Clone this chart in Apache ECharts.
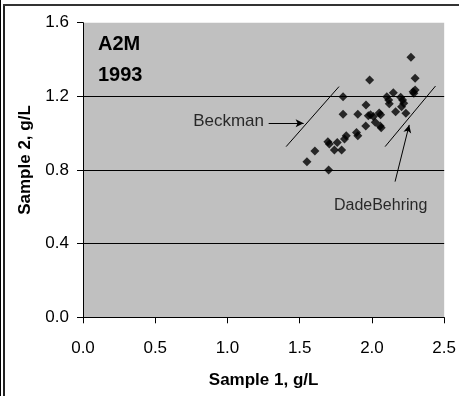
<!DOCTYPE html>
<html>
<head>
<meta charset="utf-8">
<script src="https://cdn.jsdelivr.net/npm/echarts@6/dist/echarts.min.js"></script>
<style>
html,body{margin:0;padding:0;background:#fff;}
#c{width:459px;height:396px;}
</style>
</head>
<body>
<div id="c"></div>
<script>
// ---- data ----
const sample1 = [1.55,1.605,1.70,1.695,1.705,1.74,1.76,1.79,1.80,1.80,1.81,1.822,1.893,1.902,1.902,1.957,1.959,1.984,1.975,1.99,2.01,2.023,2.05,2.06,2.057,2.064,2.103,2.116,2.12,2.148,2.164,2.199,2.212,2.22,2.205,2.235,2.27,2.299,2.29,2.299,2.285];
const sample2 = [0.845,0.903,0.80,0.954,0.941,0.909,0.950,0.909,1.198,1.103,0.968,0.986,1.003,0.986,1.103,1.039,1.153,1.289,1.095,1.10,1.09,1.059,1.11,1.10,1.039,1.03,1.198,1.18,1.16,1.22,1.117,1.195,1.18,1.162,1.144,1.108,1.412,1.298,1.217,1.235,1.225];
const xTickLabels = ['0.0','0.5','1.0','1.5','2.0','2.5'];
const yTickLabels = ['0.0','0.4','0.8','1.2','1.6'];
const gridLineValues = [0.4,0.8,1.2];
const beckmanLine = [[1.406,0.927],[1.772,1.253]];
const dadeLine = [[2.091,0.927],[2.44,1.256]];
const beckmanArrow = [[1.285,1.054],[1.527,1.054]];
const dadeArrow = [[2.16,0.737],[2.258,1.045]];
const beckmanLabel = [1.253,1.067];
const dadeLabel = [1.737,0.605];
const titleLines = ['A2M','1993'];
const xName = 'Sample 1, g/L';
const yName = 'Sample 2, g/L';

const points = sample1.map((x,i)=>[x,sample2[i]]);
const FONT = 'Liberation Sans, Arial, sans-serif';

const chart = echarts.init(document.getElementById('c'), null, {renderer:'canvas'});
chart.setOption({
  animation:false,
  backgroundColor:'#ffffff',
  title:{
    text:titleLines.join('\n'),
    left:98, top:29, padding:0,
    textStyle:{fontFamily:FONT,fontSize:20,fontWeight:'bold',color:'#000',lineHeight:31}
  },
  grid:{left:83,right:10.7,top:22.7,bottom:78.7,show:true,backgroundColor:'#C0C0C0',borderWidth:0},
  xAxis:{
    type:'value',min:0,max:2.5,interval:0.5,
    name:xName,nameLocation:'middle',nameGap:55,
    nameTextStyle:{fontFamily:FONT,fontSize:17,fontWeight:'bold',color:'#000'},
    axisLine:{show:true,onZero:false,lineStyle:{color:'#000',width:1}},
    axisTick:{show:true,length:6,inside:false,lineStyle:{color:'#000'}},
    axisLabel:{margin:23,fontFamily:FONT,fontSize:17,color:'#000',
      formatter:(v)=>xTickLabels[Math.round(v/0.5)]},
    splitLine:{show:false}
  },
  yAxis:{
    type:'value',min:0,max:1.6,interval:0.4,
    axisLine:{show:true,onZero:false,lineStyle:{color:'#000',width:1}},
    axisTick:{show:true,length:6,inside:false,lineStyle:{color:'#000'}},
    axisLabel:{margin:14,fontFamily:FONT,fontSize:17,color:'#000',
      formatter:(v)=>yTickLabels[Math.round(v/0.4)]},
    splitLine:{show:false}
  },
  graphic:[
    {type:'text',x:25.5,y:160,rotation:Math.PI/2,
     style:{text:yName,fontFamily:FONT,fontSize:17,fontWeight:'bold',fill:'#000',align:'center',verticalAlign:'middle'}},
    {type:'line',shape:{x1:0.5,y1:0,x2:0.5,y2:396},style:{stroke:'#000',lineWidth:1}},
    {type:'line',shape:{x1:4,y1:4,x2:4,y2:396},style:{stroke:'#222',lineWidth:2}},
    {type:'line',shape:{x1:3,y1:5,x2:459,y2:5},style:{stroke:'#333',lineWidth:2}}
  ],
  series:[
    {type:'line',data:[],silent:true,
     markLine:{silent:true,symbol:['none','none'],label:{show:false},
       lineStyle:{color:'#000',width:1,type:'solid'},
       data:gridLineValues.map(v=>({yAxis:v}))}},
    {type:'line',data:beckmanLine,symbol:'none',lineStyle:{color:'#000',width:1},silent:true,z:3},
    {type:'line',data:dadeLine,symbol:'none',lineStyle:{color:'#000',width:1},silent:true,z:3},
    {type:'line',data:[],silent:true,
     markLine:{silent:true,symbol:['none','arrow'],symbolSize:[6,8],label:{show:false},
       lineStyle:{color:'#000',width:1,type:'solid'},
       data:[
         [{coord:beckmanArrow[0]},{coord:beckmanArrow[1]}],
         [{coord:dadeArrow[0]},{coord:dadeArrow[1]}]
       ]}},
    {type:'scatter',data:points,symbol:'diamond',symbolSize:9,itemStyle:{color:'#000'},z:5},
    {type:'scatter',symbolSize:0,silent:true,
     data:[{value:beckmanLabel,label:{formatter:'Beckman',position:'left',fontSize:17}},
           {value:dadeLabel,label:{formatter:'DadeBehring',position:'right',fontSize:16}}],
     label:{show:true,distance:0,fontFamily:FONT,color:'#000'}}
  ]
});
</script>
</body>
</html>
